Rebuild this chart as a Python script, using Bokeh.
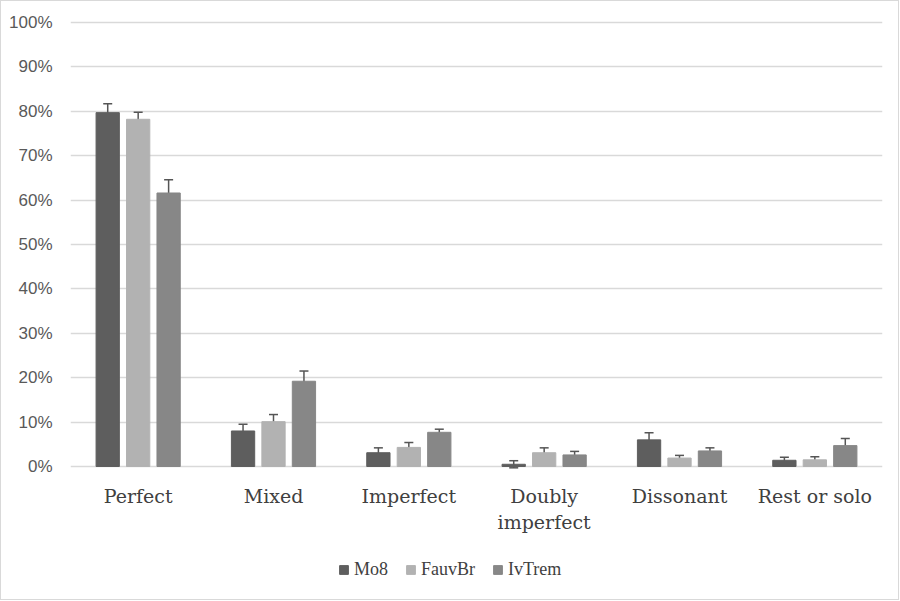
from bokeh.plotting import figure
from bokeh.models import (FactorRange, ColumnDataSource, Whisker, TeeHead, FixedTicker,
                          Legend, LegendItem, Range1d)
from bokeh.transform import dodge
from bokeh.embed import file_html
from bokeh.resources import INLINE
from bokeh.core.properties import value

categories = ["Perfect", "Mixed", "Imperfect", "Doubly imperfect", "Dissonant", "Rest or solo"]
cat_labels = ["Perfect", "Mixed", "Imperfect", "Doubly\nimperfect", "Dissonant", "Rest or solo"]
series = ["Mo8", "FauvBr", "IvTrem"]
mo8 = [0.797, 0.080, 0.031, 0.005, 0.060, 0.014]
fauvbr = [0.782, 0.101, 0.043, 0.031, 0.019, 0.015]
ivtrem = [0.616, 0.192, 0.077, 0.026, 0.035, 0.047]
mo8_err = [0.020, 0.015, 0.011, 0.008, 0.016, 0.007]
fauvbr_err = [0.016, 0.016, 0.011, 0.011, 0.006, 0.007]
ivtrem_err = [0.030, 0.023, 0.007, 0.008, 0.007, 0.016]
y_ticks = [0, 0.1, 0.2, 0.3, 0.4, 0.5, 0.6, 0.7, 0.8, 0.9, 1.0]

colors = ["#5e5e5e", "#b2b2b2", "#878787"]
offsets = [-0.225, 0.0, 0.225]
vals = [mo8, fauvbr, ivtrem]
errs = [mo8_err, fauvbr_err, ivtrem_err]

p = figure(x_range=FactorRange(*categories, range_padding=0), y_range=Range1d(-0.2748, 1.009),
           width=899, height=600, output_backend="svg", toolbar_location=None,
           min_border_left=69, min_border_right=18, min_border_top=17, min_border_bottom=13)
p.outline_line_color = None
p.xaxis.visible = False
p.xgrid.visible = False

yax = p.yaxis[0]
yax.ticker = FixedTicker(ticks=y_ticks)
yax.axis_line_color = None
yax.major_tick_line_color = None
yax.minor_tick_line_color = None
yax.major_label_standoff = 12
yax.major_label_text_font = "Liberation Sans"
yax.major_label_text_font_size = "17px"
yax.major_label_text_color = "#595959"
yax.major_label_overrides = {t: f"{int(round(t*100))}%" for t in y_ticks}
p.ygrid.ticker = FixedTicker(ticks=y_ticks)
p.ygrid.grid_line_color = "#d9d9d9"
p.ygrid.grid_line_width = 1.5

items = []
for name, v, e, c, off in zip(series, vals, errs, colors, offsets):
    src = ColumnDataSource(dict(cat=categories, val=v,
                                lo=[a - b for a, b in zip(v, e)],
                                hi=[a + b for a, b in zip(v, e)]))
    r = p.vbar(x=dodge("cat", off, range=p.x_range), top="val", width=0.172, source=src,
               fill_color=c, line_color=c, line_width=1)
    w = Whisker(base=dodge("cat", off, range=p.x_range), upper="hi", lower="lo", source=src,
                line_color="#555555", line_width=1.5,
                upper_head=TeeHead(size=9, line_color="#555555", line_width=1.5),
                lower_head=TeeHead(size=9, line_color="#555555", line_width=1.5))
    p.add_layout(w)
    items.append(LegendItem(label=name, renderers=[r]))

lsrc = ColumnDataSource(dict(cat=categories, lab=cat_labels, y=[0]*len(categories)))
p.text(x="cat", y="y", text="lab", source=lsrc, text_align="center", text_baseline="top",
       y_offset=19, text_font=value("DejaVu Serif"), text_font_size="19px",
       text_color="#404040", text_line_height=1.15)

legend = Legend(items=items, orientation="horizontal", location=(268, 8),
                border_line_color=None, background_fill_alpha=0,
                label_text_font="Liberation Serif", label_text_font_size="18px",
                label_text_color="#404040", glyph_width=11, glyph_height=11,
                label_standoff=5, spacing=17, padding=0, margin=0, label_height=20)
p.add_layout(legend)

p.styles = {"border": "1px solid #d9d9d9"}

open("out.html", "w").write(file_html(p, INLINE))
